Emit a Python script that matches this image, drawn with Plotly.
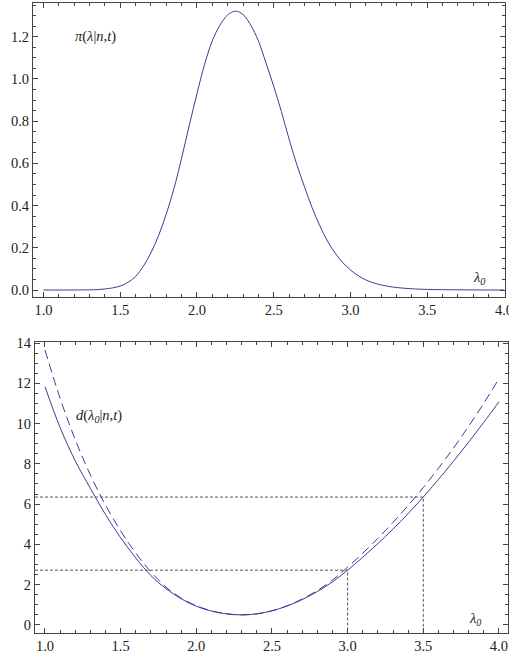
import plotly.graph_objects as go

# ---------------- data ----------------
# Top panel: posterior density pi(lambda | n, t)
post_lambda = [1.00, 1.20, 1.30, 1.35, 1.40, 1.45, 1.50, 1.55, 1.60, 1.65, 1.70, 1.75, 1.80,
               1.85, 1.90, 1.95, 2.00, 2.05, 2.10, 2.15, 2.20, 2.25, 2.30, 2.35, 2.40, 2.45,
               2.50, 2.55, 2.60, 2.65, 2.70, 2.75, 2.80, 2.85, 2.90, 2.95, 3.00, 3.05, 3.10,
               3.15, 3.20, 3.25, 3.30, 3.40, 3.50, 3.70, 4.00]
post_density = [0.0, 0.0003, 0.001, 0.002, 0.005, 0.010, 0.019, 0.036, 0.064, 0.112, 0.176,
                0.258, 0.36, 0.48, 0.625, 0.78, 0.93, 1.07, 1.18, 1.255, 1.303, 1.321, 1.305,
                1.255, 1.18, 1.075, 0.965, 0.845, 0.715, 0.595, 0.49, 0.39, 0.305, 0.232,
                0.175, 0.13, 0.095, 0.068, 0.048, 0.034, 0.024, 0.017, 0.012, 0.006, 0.003,
                0.001, 0.0]

# Bottom panel: d(lambda0 | n, t) (solid) and its approximation (dashed)
d_lambda = [1.0, 1.1, 1.2, 1.3, 1.4, 1.5, 1.6, 1.7, 1.8, 1.9, 2.0, 2.1, 2.2, 2.3, 2.4, 2.5,
            2.6, 2.7, 2.8, 2.9, 3.0, 3.1, 3.2, 3.3, 3.4, 3.5, 3.6, 3.7, 3.8, 3.9, 4.0]
d_solid = [11.83, 9.80, 8.15, 6.78, 5.48, 4.33, 3.33, 2.45, 1.80, 1.30, 0.93, 0.69, 0.55, 0.50,
           0.55, 0.70, 0.94, 1.26, 1.66, 2.14, 2.72, 3.36, 4.04, 4.76, 5.53, 6.35, 7.22, 8.13,
           9.08, 10.06, 11.08]
d_dashed = [13.65, 11.25, 9.20, 7.45, 5.95, 4.67, 3.57, 2.63, 1.88, 1.33, 0.95, 0.70, 0.55, 0.50,
            0.55, 0.70, 0.95, 1.29, 1.71, 2.23, 2.87, 3.56, 4.30, 5.09, 5.93, 6.82, 7.78, 8.79,
            9.87, 11.01, 12.23]

# reference points marked by dotted guide lines
guide_lambda = [3.0, 3.5]
guide_d = [2.72, 6.35]

x_ticks = [1.0, 1.5, 2.0, 2.5, 3.0, 3.5, 4.0]
top_y_ticks = [0.0, 0.2, 0.4, 0.6, 0.8, 1.0, 1.2]
bot_y_ticks = [0, 2, 4, 6, 8, 10, 12, 14]

# ---------------- styling ----------------
W, H = 509, 657
CURVE = "#3c3c98"
FRAME = "#444444"
GUIDE = "#555555"
FONT = "Liberation Serif"
TICK_SIZE = 14.5

top_xrange = [0.932, 4.0065]
top_yrange = [-0.033, 1.362]
bot_xrange = [0.934, 4.06]
bot_yrange = [-0.4, 14.05]

fig = go.Figure()

fig.add_trace(go.Scatter(x=post_lambda, y=post_density, mode="lines",
                         line=dict(color=CURVE, width=1, shape="spline", smoothing=1.0),
                         xaxis="x", yaxis="y", hoverinfo="skip"))

fig.add_trace(go.Scatter(x=d_lambda, y=d_solid, mode="lines",
                         line=dict(color=CURVE, width=1, shape="spline", smoothing=1.0),
                         xaxis="x2", yaxis="y2", hoverinfo="skip"))
fig.add_trace(go.Scatter(x=d_lambda, y=d_dashed, mode="lines",
                         line=dict(color=CURVE, width=1, shape="spline", smoothing=1.0,
                                   dash="9px,5px"),
                         xaxis="x2", yaxis="y2", hoverinfo="skip"))

for gx, gy in zip(guide_lambda, guide_d):
    fig.add_trace(go.Scatter(x=[bot_xrange[0], gx, gx], y=[gy, gy, bot_yrange[0]],
                             mode="lines",
                             line=dict(color=GUIDE, width=1, dash="3px,2px"),
                             xaxis="x2", yaxis="y2", hoverinfo="skip"))


def axis(domain, rng, ticks, fmt, minor_dtick, anchor):
    return dict(
        domain=domain, range=rng, anchor=anchor, automargin=False,
        tickmode="array", tickvals=ticks, ticktext=[fmt.format(t) for t in ticks],
        ticks="inside", ticklen=5, tickwidth=1, tickcolor=FRAME,
        minor=dict(ticks="inside", ticklen=3, tickwidth=1, tickcolor=FRAME,
                   dtick=minor_dtick, tick0=0, showgrid=False),
        showline=True, linecolor=FRAME, linewidth=1, mirror="allticks",
        showgrid=False, zeroline=False, ticklabeloverflow="allow",
        tickfont=dict(family=FONT, size=TICK_SIZE, color="#222222"),
        fixedrange=True,
    )


layout = dict(
    width=W, height=H,
    margin=dict(l=0, r=0, t=0, b=0, autoexpand=False),
    paper_bgcolor="white", plot_bgcolor="white",
    showlegend=False,
    xaxis=axis([33 / W, 505 / W], top_xrange, x_ticks, "{:.1f}", 0.1, "y"),
    yaxis=axis([1 - 297 / H, 1 - 2.5 / H], top_yrange, top_y_ticks, "{:.1f}", 0.05, "x"),
    xaxis2=axis([35 / W, 508 / W], bot_xrange, x_ticks, "{:.1f}", 0.1, "y2"),
    yaxis2=axis([1 - 633 / H, 1 - 342 / H], bot_yrange, bot_y_ticks, "{:d}", 0.5, "x2"),
)
fig.update_layout(**layout)

label_font = dict(family=FONT, size=14.5, color="#222222")
fig.add_annotation(x=1.34, y=1.2, xref="x", yref="y", showarrow=False,
                   text="<i>π</i>(<i>λ</i>|<i>n</i>,<i>t</i>)", font=label_font)
fig.add_annotation(x=3.834, y=0.055, xref="x", yref="y", showarrow=False,
                   text="<i>λ<sub>0</sub></i>", font=label_font)
fig.add_annotation(x=1.36, y=10.4, xref="x2", yref="y2", showarrow=False,
                   text="<i>d</i>(<i>λ<sub>0</sub></i>|<i>n</i>,<i>t</i>)", font=label_font)
fig.add_annotation(x=3.84, y=0.3, xref="x2", yref="y2", showarrow=False,
                   text="<i>λ<sub>0</sub></i>", font=label_font)

fig.write_html("out.html", config={"staticPlot": True},
               post_script="document.body.style.margin='0';document.body.style.overflow='hidden';")
